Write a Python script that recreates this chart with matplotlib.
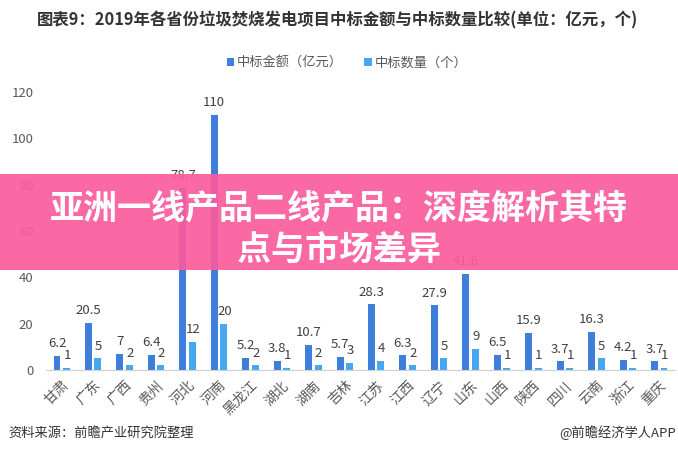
import numpy as np
import matplotlib.pyplot as plt
from matplotlib.patches import Rectangle

plt.rcParams['font.family'] = ['Noto Sans CJK SC', 'DejaVu Sans']

provinces = ["甘肃", "广东", "广西", "贵州", "河北", "河南", "黑龙江", "湖北", "湖南", "吉林",
             "江苏", "江西", "辽宁", "山东", "山西", "陕西", "四川", "云南", "浙江", "重庆"]
amount = [6.2, 20.5, 7, 6.4, 78.7, 110, 5.2, 3.8, 10.7, 5.7,
          28.3, 6.3, 27.9, 41.6, 6.5, 15.9, 3.7, 16.3, 4.2, 3.7]
count = [1, 5, 2, 2, 12, 20, 2, 1, 2, 3, 4, 2, 5, 9, 1, 1, 1, 5, 1, 1]
yticks = [0, 20, 40, 60, 80, 100, 120]

blue = "#3d7fdb"
light = "#46a8ee"
grey = "#595959"

fig = plt.figure(figsize=(6.78, 4.53), dpi=100)
ax = fig.add_axes([46 / 678, 1 - 370 / 453, (675 - 46) / 678, (370 - 92) / 453])

x = np.arange(len(provinces))
w = 0.22
ax.bar(x - 0.15, amount, width=w, color=blue, label="中标金额（亿元）")
ax.bar(x + 0.15, count, width=w, color=light, label="中标数量（个）")

# value labels, they crowd each other on small bars just like the original
for xi, a, c in zip(x, amount, count):
    ax.text(xi - 0.15, a + 2.5, f"{a:g}", ha="center", va="bottom", fontsize=9.5, color="#404040")
    ax.text(xi + 0.17, c + 2.5, f"{c:g}", ha="center", va="bottom", fontsize=9.5, color="#404040")

ax.set_xlim(-0.5, len(provinces) - 0.5)
ax.set_ylim(0, 120)
ax.set_yticks(yticks)
ax.set_xticks(x)
ax.set_xticklabels(provinces, rotation=45, ha="right", rotation_mode="anchor",
                   fontsize=10, color=grey)
ax.tick_params(axis="y", length=0, labelsize=9.5, labelcolor=grey, pad=9)
ax.tick_params(axis="x", length=0, pad=6)
for s in ["top", "right", "left"]:
    ax.spines[s].set_visible(False)
ax.spines["bottom"].set_color("#d0d0d0")

fig.legend(loc="center", bbox_to_anchor=(347 / 678, 1 - 63 / 453), ncol=2, frameon=False,
           fontsize=9.5, handlelength=0.6, handleheight=0.6, handletextpad=0.2,
           columnspacing=1.6, labelcolor=grey)

fig.text(337 / 678, 1 - 20 / 453, "图表9：2019年各省份垃圾焚烧发电项目中标金额与中标数量比较(单位：亿元，个)",
         ha="center", va="center", fontsize=11.8, fontweight="bold", color="#333333")
fig.text(8 / 678, 1 - 433 / 453, "资料来源：前瞻产业研究院整理", ha="left", va="center",
         fontsize=9.5, color="#333333")
fig.text(676 / 678, 1 - 433 / 453, "@前瞻经济学人APP", ha="right", va="center",
         fontsize=9.5, color="#333333")

# pink banner over the chart
fig.patches.append(Rectangle((0, 1 - 270 / 453), 1, 96 / 453, transform=fig.transFigure,
                             facecolor="#fa5c9c", alpha=0.92, edgecolor="none", zorder=5))
fig.text(0.5, 1 - 208 / 453, "亚洲一线产品二线产品：深度解析其特", ha="center", va="center",
         fontsize=24.5, fontweight="black", color="white", zorder=6)
fig.text(0.5, 1 - 249 / 453, "点与市场差异", ha="center", va="center",
         fontsize=24.5, fontweight="black", color="white", zorder=6)

fig.savefig("out.png", dpi=100)
